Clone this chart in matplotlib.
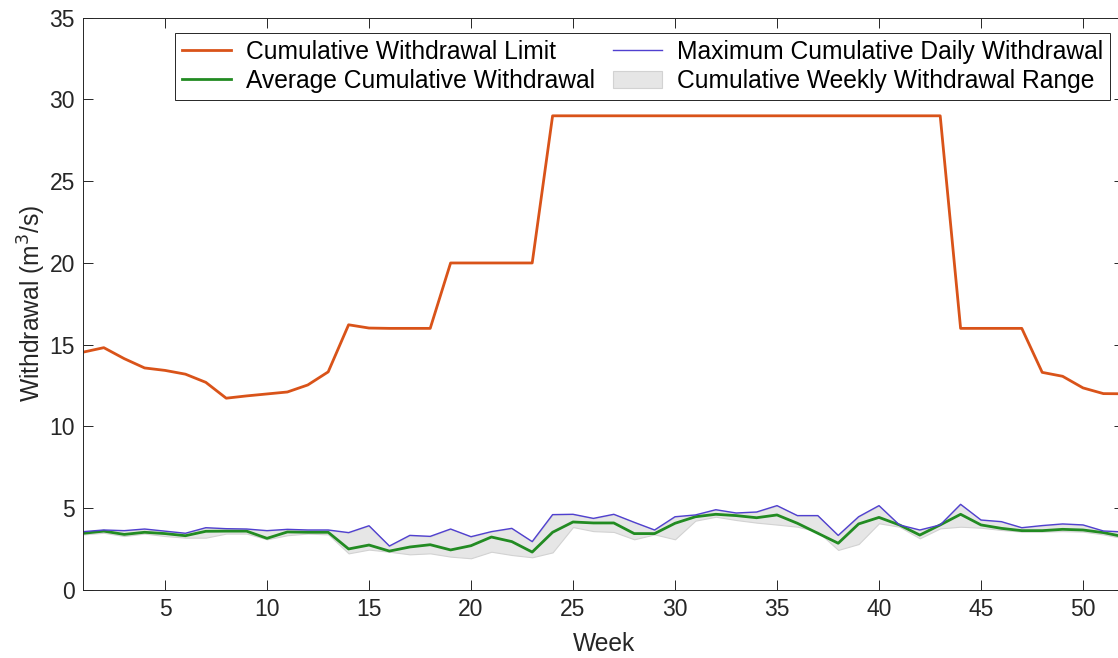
import matplotlib
matplotlib.use("Agg")
import matplotlib.pyplot as plt
import numpy as np

weeks = np.arange(1, 53)

limit = [14.55, 14.82, 14.15, 13.58, 13.43, 13.2, 12.7, 11.73, 11.87, 11.99,
         12.11, 12.54, 13.34, 16.22, 16.02, 16.0, 16.0, 16.0, 20.0, 20.0,
         20.0, 20.0, 20.0, 29.0, 29.0, 29.0, 29.0, 29.0, 29.0, 29.0,
         29.0, 29.0, 29.0, 29.0, 29.0, 29.0, 29.0, 29.0, 29.0, 29.0,
         29.0, 29.0, 29.0, 16.0, 16.0, 16.0, 16.0, 13.31, 13.07, 12.36,
         12.01, 12.0]

max_daily = [3.57, 3.67, 3.63, 3.73, 3.6, 3.47, 3.81, 3.75, 3.73, 3.63,
             3.71, 3.67, 3.67, 3.51, 3.93, 2.69, 3.34, 3.28, 3.73, 3.26,
             3.57, 3.77, 2.96, 4.61, 4.63, 4.38, 4.63, 4.14, 3.67, 4.48,
             4.59, 4.91, 4.71, 4.77, 5.16, 4.55, 4.55, 3.34, 4.48, 5.16,
             3.98, 3.67, 3.98, 5.24, 4.28, 4.18, 3.81, 3.94, 4.04, 3.98,
             3.61, 3.55]

average = [3.47, 3.6, 3.4, 3.53, 3.45, 3.32, 3.59, 3.6, 3.6, 3.16,
           3.55, 3.53, 3.53, 2.51, 2.75, 2.38, 2.63, 2.77, 2.45, 2.71,
           3.24, 2.96, 2.32, 3.53, 4.16, 4.1, 4.1, 3.45, 3.45, 4.08,
           4.48, 4.63, 4.55, 4.42, 4.59, 4.08, 3.47, 2.86, 4.04, 4.44,
           3.98, 3.36, 3.98, 4.63, 3.98, 3.77, 3.63, 3.63, 3.71, 3.67,
           3.51, 3.26]

min_weekly = [3.4, 3.5, 3.3, 3.45, 3.3, 3.2, 3.2, 3.45, 3.45, 3.1,
              3.35, 3.45, 3.4, 2.24, 2.47, 2.34, 2.18, 2.24, 2.04, 1.94,
              2.34, 2.14, 2.0, 2.3, 3.85, 3.6, 3.55, 3.1, 3.4, 3.1,
              4.24, 4.48, 4.28, 4.12, 4.0, 3.87, 3.57, 2.45, 2.81, 4.08,
              3.87, 3.16, 3.77, 3.87, 3.81, 3.67, 3.57, 3.57, 3.6, 3.57,
              3.4, 3.16]

plt.rcParams['font.family'] = ['Liberation Sans', 'DejaVu Sans']

fig = plt.figure(figsize=(11.18, 6.58), dpi=100)
ax = fig.add_axes([83.4 / 1118, 68 / 658, 1040.4 / 1118, 572.3 / 658])

ax.fill_between(weeks, min_weekly, max_daily, facecolor='#e6e6e6',
                edgecolor='#d2d2d2', linewidth=0.8,
                label='Cumulative Weekly Withdrawal Range')
ax.plot(weeks, limit, color='#D95319', lw=2.0,
        label='Cumulative Withdrawal Limit')
ax.plot(weeks, average, color='#228B22', lw=2.0,
        label='Average Cumulative Withdrawal')
ax.plot(weeks, max_daily, color='#5040D0', lw=1.0,
        label='Maximum Cumulative Daily Withdrawal')

ax.set_xlim(1, 52)
ax.set_ylim(0, 35)
ax.set_xticks([5, 10, 15, 20, 25, 30, 35, 40, 45, 50])
ax.set_yticks(range(0, 36, 5))
ax.tick_params(direction='in', top=True, right=True, length=7,
               width=0.7, labelsize=16.5, colors='#262626', pad=6)
for s in ax.spines.values():
    s.set_color('#262626')
    s.set_linewidth(0.7)

ax.set_xlabel('Week', fontsize=17.7, color='#262626', labelpad=8)
ax.set_ylabel('Withdrawal (m$^3$/s)', fontsize=17.7, color='#262626', labelpad=1)

handles, labels = ax.get_legend_handles_labels()
order = [labels.index(n) for n in ['Cumulative Withdrawal Limit',
                                   'Average Cumulative Withdrawal',
                                   'Maximum Cumulative Daily Withdrawal',
                                   'Cumulative Weekly Withdrawal Range']]
leg = ax.legend([handles[i] for i in order], [labels[i] for i in order],
                ncol=2, loc='upper right', fontsize=17.7,
                bbox_to_anchor=(1110 / 1118, 1 - 33 / 658),
                bbox_transform=fig.transFigure, borderaxespad=0,
                fancybox=False, framealpha=1, edgecolor='#262626',
                handlelength=2.0, handletextpad=0.6, columnspacing=0.75,
                labelspacing=0.2, borderpad=0.28)
leg.get_frame().set_linewidth(0.7)

fig.savefig('out.png', dpi=100)
